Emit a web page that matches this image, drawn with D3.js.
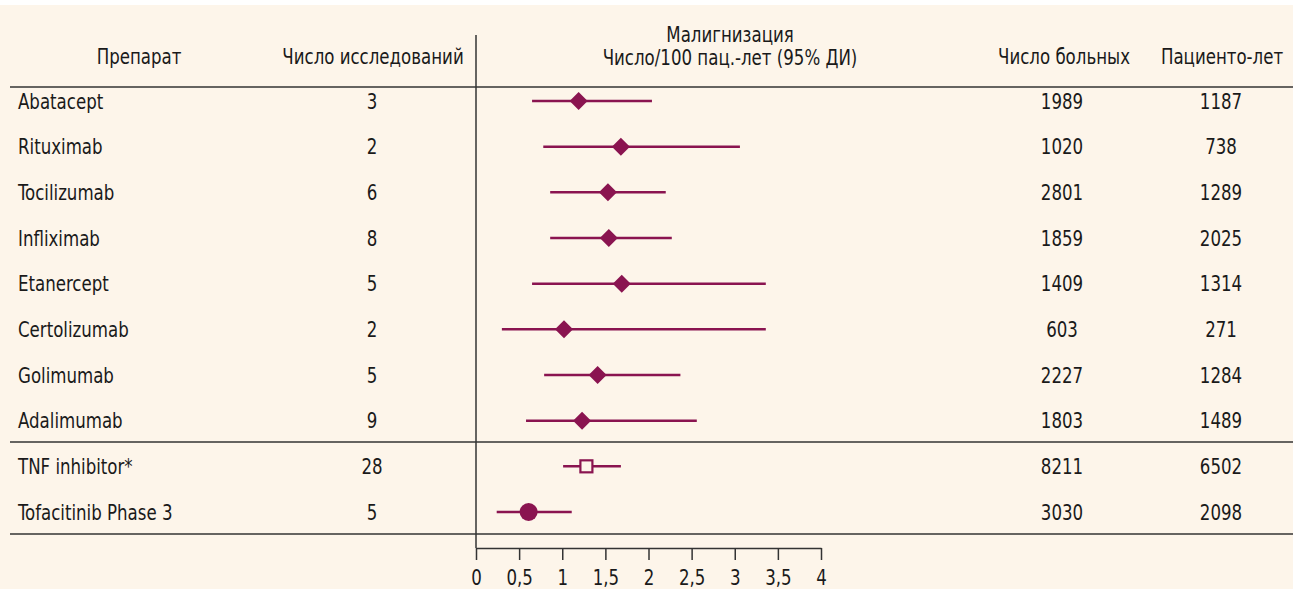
<!DOCTYPE html>
<html lang="ru">
<head>
<meta charset="UTF-8">
<title>Малигнизация</title>
<script src="https://d3js.org/d3.v7.min.js"></script>
<style>
    body { margin: 0; background: #fff; }
    svg text { font-family: "DejaVu Sans Condensed", "DejaVu Sans", sans-serif; fill: #1a1a1a; font-size: 21px; }
</style>
</head>
<body>
<script>
    // data
    var drugs = ["Abatacept", "Rituximab", "Tocilizumab", "Infliximab", "Etanercept",
        "Certolizumab", "Golimumab", "Adalimumab", "TNF inhibitor*", "Tofacitinib Phase 3"];
    var studies = [3, 2, 6, 8, 5, 2, 5, 9, 28, 5];
    var rate = [1.19, 1.68, 1.53, 1.54, 1.69, 1.02, 1.41, 1.23, 1.28, 0.61];
    var lower = [0.65, 0.78, 0.86, 0.86, 0.65, 0.30, 0.79, 0.58, 1.01, 0.24];
    var upper = [2.04, 3.06, 2.20, 2.27, 3.36, 3.36, 2.37, 2.56, 1.68, 1.11];
    var patients = [1989, 1020, 2801, 1859, 1409, 603, 2227, 1803, 8211, 3030];
    var patientYears = [1187, 738, 1289, 2025, 1314, 271, 1284, 1489, 6502, 2098];
    var markers = ["diamond", "diamond", "diamond", "diamond", "diamond",
        "diamond", "diamond", "diamond", "square", "circle"];
    var xTicks = [0, 0.5, 1, 1.5, 2, 2.5, 3, 3.5, 4];

    var W = 1293, H = 589;
    var purple = "#8a1450";
    var ink = "#333";
    var squeeze = 0.88;   // narrow the font to look like the condensed original

    var svg = d3.select("body").append("svg").attr("width", W).attr("height", H);
    svg.append("rect").attr("width", W).attr("height", H).attr("fill", "#fdf5ea");
    svg.append("rect").attr("width", W).attr("height", 5).attr("fill", "#fff");

    var x = d3.scaleLinear().domain([0, 4]).range([476, 821]);
    var y = d3.scalePoint().domain(drugs).range([101, 512]);

    function label(sel, tx, ty, str, anchor) {
        return sel.append("text")
            .attr("transform", "translate(" + tx + "," + ty + ") scale(" + squeeze + ",1)")
            .attr("text-anchor", anchor || "middle")
            .text(str);
    }

    var rows = drugs.map(function (d, i) {
        return {name: d, n: studies[i], r: rate[i], lo: lower[i], hi: upper[i],
            p: patients[i], py: patientYears[i], m: markers[i]};
    });

    // header
    var head = svg.append("g");
    label(head, 139, 64, "Препарат");
    label(head, 373, 64, "Число исследований");
    label(head, 730, 42, "Малигнизация");
    label(head, 730, 65, "Число/100 пац.-лет (95% ДИ)");
    label(head, 1064, 64, "Число больных");
    label(head, 1222, 64, "Пациенто-лет");

    // rules
    [87, 442, 534].forEach(function (yy) {
        svg.append("line").attr("x1", 10).attr("x2", W).attr("y1", yy).attr("y2", yy)
            .attr("stroke", ink).attr("stroke-width", 1.5);
    });
    svg.append("line").attr("x1", x(0)).attr("x2", x(0)).attr("y1", 35).attr("y2", 548)
        .attr("stroke", ink).attr("stroke-width", 1.5);

    // table columns
    rows.forEach(function (d) {
        var g = svg.append("g");
        var base = y(d.name) + 7.5;
        label(g, 18, base, d.name, "start");
        label(g, 372, base, d.n);
        label(g, 1062, base, d.p);
        label(g, 1221, base, d.py);

        // CI line
        g.append("line")
            .attr("x1", x(d.lo)).attr("x2", x(d.hi))
            .attr("y1", y(d.name)).attr("y2", y(d.name))
            .attr("stroke", purple).attr("stroke-width", 2.5);

        var cx = x(d.r), cy = y(d.name);
        if (d.m === "diamond") {
            g.append("path")
                .attr("d", "M" + cx + "," + (cy - 9) + "L" + (cx + 9) + "," + cy + "L" + cx + "," + (cy + 9) + "L" + (cx - 9) + "," + cy + "Z")
                .attr("fill", purple);
        } else if (d.m === "square") {
            g.append("rect").attr("x", cx - 6).attr("y", cy - 6).attr("width", 12).attr("height", 12)
                .attr("fill", "#fdf5ea").attr("stroke", purple).attr("stroke-width", 2.2);
        } else {
            g.append("circle").attr("cx", cx).attr("cy", cy).attr("r", 9).attr("fill", purple);
        }
    });

    // axis
    var axis = d3.axisBottom(x).tickValues(xTicks).tickSize(12).tickSizeOuter(0).tickPadding(10)
        .tickFormat(function (d) { return String(d).replace(".", ","); });
    var ax = svg.append("g").attr("transform", "translate(0,548)").call(axis);
    ax.select(".domain").attr("stroke", ink).attr("stroke-width", 1.5);
    ax.selectAll(".tick line").attr("stroke", ink).attr("stroke-width", 1.5);
    ax.selectAll(".tick text")
        .attr("fill", "#1a1a1a")
        .style("font-size", "21px")
        .style("font-family", "'DejaVu Sans Condensed', 'DejaVu Sans', sans-serif")
        .attr("transform", "scale(" + squeeze + ",1)");
</script>
</body>
</html>
